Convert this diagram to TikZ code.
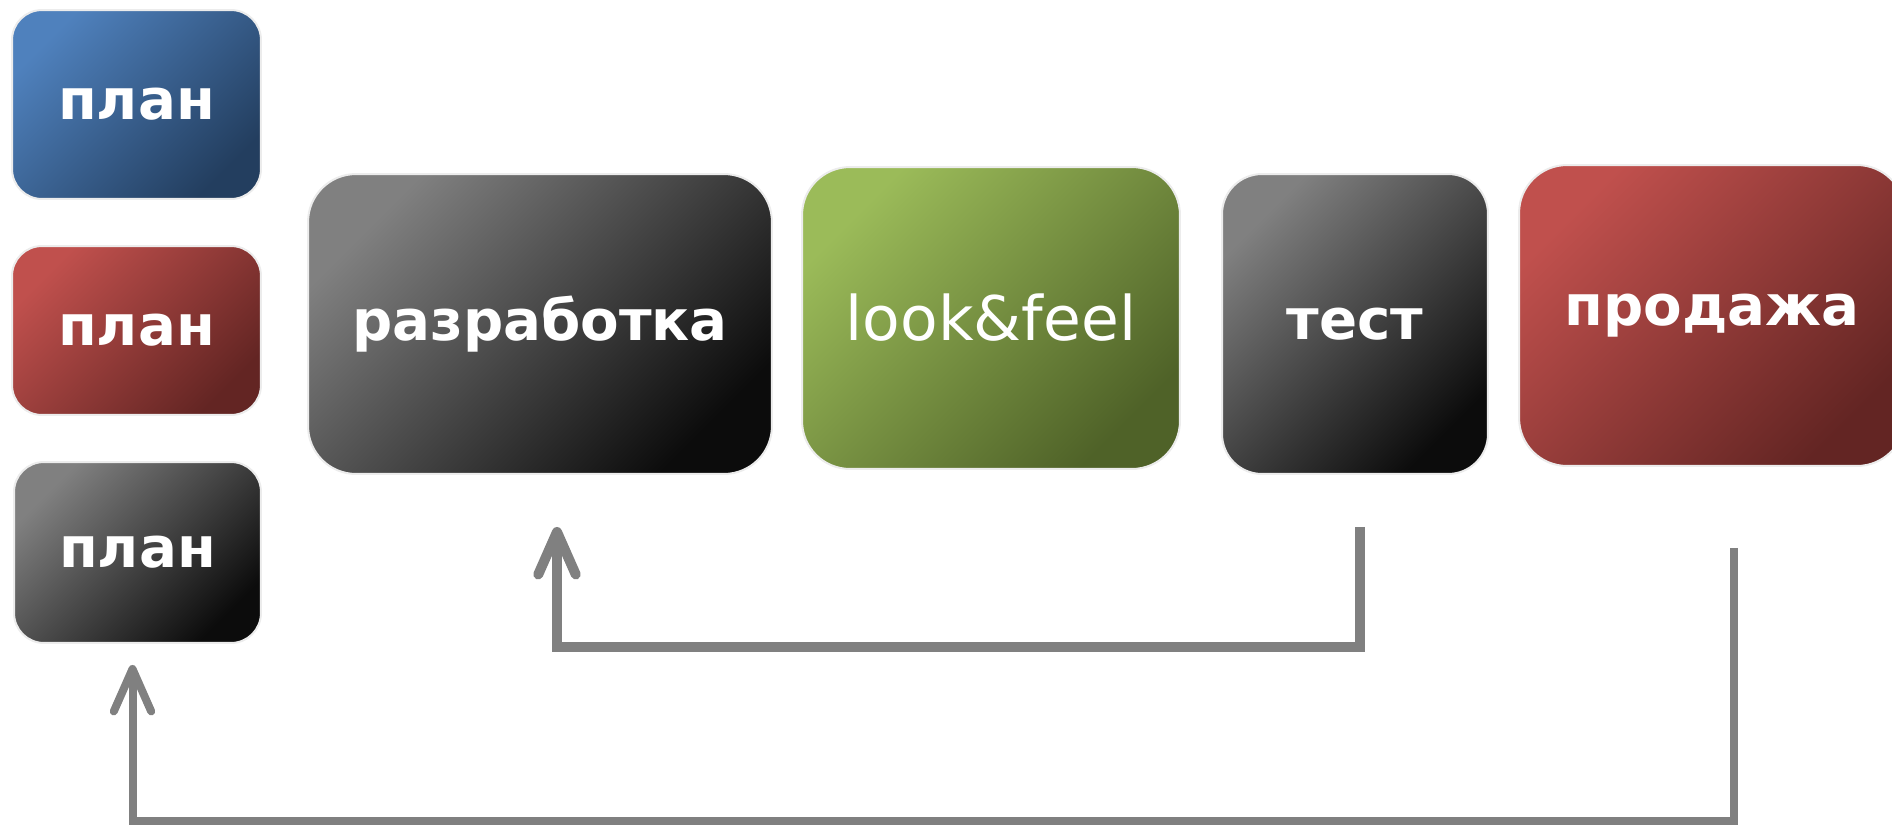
\documentclass[tikz,border=0pt]{standalone}
\usepackage{fontspec}
\setmainfont{DejaVu Sans}
\usetikzlibrary{arrows.meta}

\definecolor{blueA}{HTML}{4F81BD}
\definecolor{blueB}{HTML}{233E5F}
\definecolor{redA}{HTML}{C0504D}
\definecolor{redB}{HTML}{632523}
\definecolor{grayA}{HTML}{808080}
\definecolor{grayB}{HTML}{0C0C0C}
\definecolor{greenA}{HTML}{9BBB59}
\definecolor{greenB}{HTML}{4F6228}

\begin{document}
\begin{tikzpicture}[x=0.02cm, y=-0.02cm,
    stage/.style = {draw=gray!15, line width=0.04cm, rounded corners=0.6cm, inner sep=0pt,
                    text=white, font=\fontsize{32}{38}\selectfont\bfseries},
    bluestage/.style = {stage, left color=blueA, right color=blueB, shading angle=45},
    redstage/.style = {stage, left color=redA, right color=redB, shading angle=45},
    graystage/.style = {stage, left color=grayA, right color=grayB, shading angle=45},
    greenstage/.style = {stage, left color=greenA, right color=greenB, shading angle=45},
    back/.style = {draw=gray, line width=0.2cm, -{Straight Barb[length=0.85cm,width=0.75cm,round]}}]
    \useasboundingbox (0,0) rectangle (1892,825);

    % three plans on the left
    \node[bluestage, minimum width=4.98cm, minimum height=3.78cm] (plan1) at (136.5,104.5) {план};
    \node[redstage, minimum width=4.98cm, minimum height=3.38cm] (plan2) at (136.5,330.5) {план};
    \node[graystage, minimum width=4.94cm, minimum height=3.62cm] (plan3) at (137.5,552.5) {план};

    % main row
    \node[graystage, rounded corners=0.96cm, minimum width=9.28cm, minimum height=6cm] (dev) at (540,324) {разработка};
    \node[greenstage, rounded corners=0.96cm, font=\fontsize{35}{42}\selectfont, minimum width=7.56cm, minimum height=6.04cm] (look) at (991,318) {look\&feel};
    \node[graystage, rounded corners=0.8cm, minimum width=5.32cm, minimum height=6cm] (test) at (1355,324) {тест};
    \node[redstage, rounded corners=0.96cm, minimum width=7.72cm, minimum height=6.02cm] (sale) at (1712,315.5) {продажа};

    % return arrows
    \coordinate (testout) at ([xshift=0.1cm,yshift=-1.04cm]test.south);
    \coordinate (devin) at ([xshift=0.34cm,yshift=-1.04cm]dev.south);
    \draw[back] (testout) -- ++(0,120) -| (devin);

    \coordinate (saleout) at ([xshift=0.44cm,yshift=-1.62cm]sale.south);
    \coordinate (planin) at ([xshift=-0.1cm,yshift=-0.42cm]plan3.south);
    \draw[back, line width=0.16cm] (saleout) -- ++(0,273) -| (planin);
\end{tikzpicture}
\end{document}
